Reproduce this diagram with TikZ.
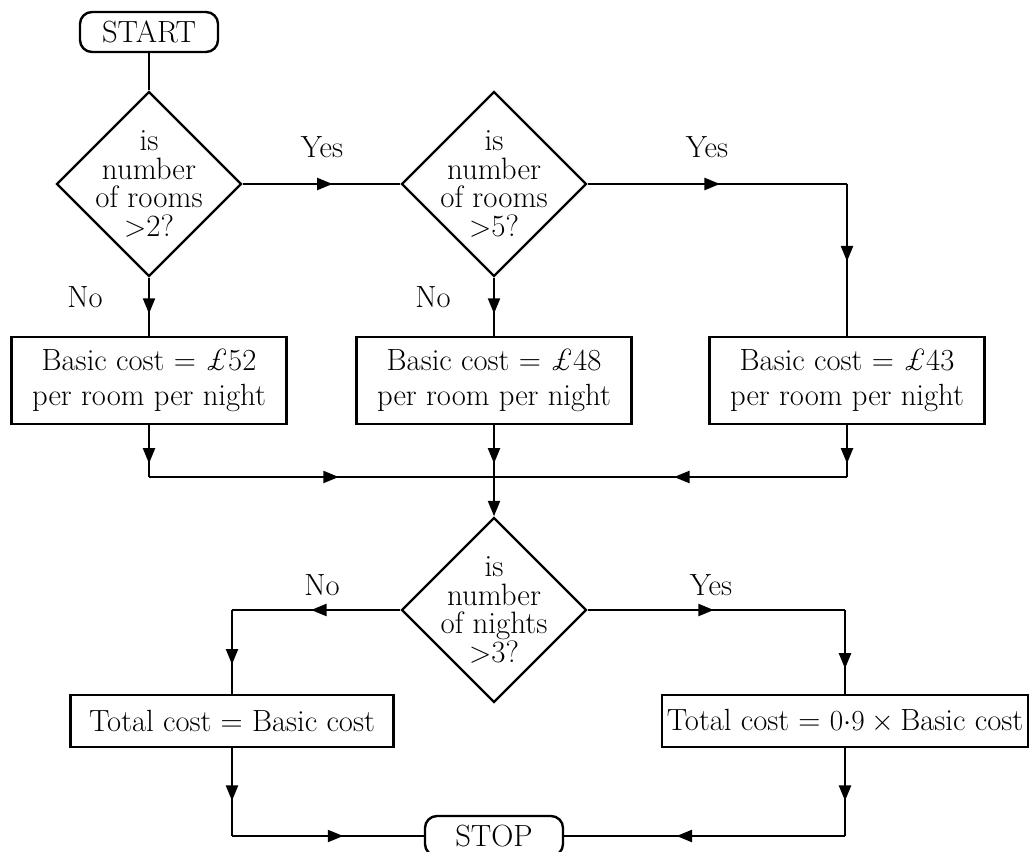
\documentclass[tikz,border=0pt]{standalone}
\usetikzlibrary{shapes.geometric,arrows.meta,decorations.markings}
\tikzset{
  every node/.style={font=\fontsize{21.8}{24.6}\selectfont},
  box/.style={draw, minimum width=6.875cm, minimum height=2.175cm, inner sep=2pt, align=center},
  term/.style={draw, rounded corners=0.3cm, minimum width=3.45cm, minimum height=1cm, inner sep=0pt},
  dia/.style={draw, diamond, minimum width=4.625cm, minimum height=4.625cm, inner sep=0pt},
  q/.style={align=center, font=\fontsize{22}{20.3}\selectfont},
  midarr/.style={postaction={decorate}, decoration={markings,
    mark=at position #1 with {\arrow{Triangle[length=11pt,width=8.5pt]}}}},
  midarr/.default=0.55
}
\begin{document}
\begin{tikzpicture}[x=0.025cm, y=-0.025cm, line width=1.7pt]
  \useasboundingbox (0,0) rectangle (1029,852);
  \node[term] (start) at (149,32) {START};
  \node[dia, label={[q]center:{is\\number\\of rooms\\$>$2?}}] (d1) at (149,184) {};
  \node[dia, label={[q]center:{is\\number\\of rooms\\$>$5?}}] (d2) at (494,184) {};
  \node[box] (b52) at (149,380.5) {Basic cost = \textit{\pounds}52\\per room per night};
  \node[box] (b48) at (494,380.5) {Basic cost = \textit{\pounds}48\\per room per night};
  \node[box] (b43) at (847,380.5) {Basic cost = \textit{\pounds}43\\per room per night};
  \node[dia, label={[q]center:{is\\number\\of nights\\$>$3?}}] (d3) at (494,610) {};
  \node[box, minimum width=8.075cm, minimum height=1.3cm] (tot) at (232,721) {Total cost = Basic cost};
  \node[box, minimum width=9.15cm, minimum height=1.3cm] (disc) at (845,721) {Total cost = $0{\cdot}9\times{}$Basic cost};
  \node[term] (stop) at (494,836) {STOP};
  % yes / no labels
  \node (yes1) at (322,147) {Yes};
  \node (yes2) at (707,147) {Yes};
  \node (no1) at (85,297) {No};
  \node (no2) at (433,297) {No};
  \node (no3) at (322,585) {No};
  \node (yes3) at (711,585) {Yes};
  % corners
  \coordinate (c1) at (d2.east -| b43.north);
  \coordinate (mrg) at (b48.south |- 0,477);
  \coordinate (m1) at (b52.south |- mrg);
  \coordinate (m3) at (b43.south |- mrg);
  \coordinate (c3) at (d3.west -| tot.north);
  \coordinate (c4) at (d3.east -| disc.north);
  \coordinate (c5) at (tot.south |- stop.west);
  \coordinate (c6) at (disc.south |- stop.east);
  \draw (start.south) -- (d1.north);
  \draw[midarr=0.57] (d1.east) -- (d2.west);
  \draw[midarr=0.62] (d1.south) -- (b52.north);
  \draw[midarr=0.51] (d2.east) -- (c1);
  \draw[midarr=0.51] (c1) -- (b43.north);
  \draw[midarr=0.62] (d2.south) -- (b48.north);
  \draw[midarr=0.74] (b52.south) -- (m1);
  \draw[midarr=0.55] (m1) -- (mrg);
  \draw[midarr=0.74] (b43.south) -- (m3);
  \draw[midarr=0.49] (m3) -- (mrg);
  \draw[midarr=0.74] (b48.south) -- (mrg);
  \draw[-{Triangle[length=11pt,width=8.5pt]}] (mrg) -- (d3.north);
  \draw[midarr=0.53] (d3.west) -- (c3);
  \draw[midarr=0.65] (c3) -- (tot.north);
  \draw[midarr=0.49] (d3.east) -- (c4);
  \draw[midarr=0.7] (c4) -- (disc.north);
  \draw[midarr=0.6] (tot.south) -- (c5);
  \draw[midarr=0.58] (c5) -- (stop.west);
  \draw[midarr=0.6] (disc.south) -- (c6);
  \draw[midarr=0.6] (c6) -- (stop.east);
\end{tikzpicture}
\end{document}
